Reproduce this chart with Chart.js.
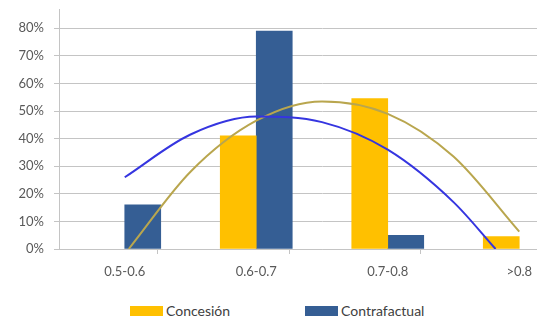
<!DOCTYPE html>
<html>
<head>
<meta charset="utf-8">
<script src="https://cdn.jsdelivr.net/npm/chart.js@4/dist/chart.umd.min.js"></script>
<style>
  html, body { margin: 0; padding: 0; background: #fff; overflow: hidden; }
  #wrap { position: absolute; left: 0; top: 0; width: 600px; height: 320px; }
  #chart { position: absolute; left: 0; top: 0; }
  #legend { position: absolute; left: 130px; top: 302px; display: flex; align-items: center;
            font-family: Lato, "Liberation Sans", sans-serif; font-size: 14px; color: #404040; }
  .item { display: flex; align-items: center; margin-right: 75px; }
  .swatch { width: 33px; height: 10px; margin-right: 3px; }
</style>
</head>
<body>
<div id="wrap">
  <canvas id="chart" width="600" height="290"></canvas>
  <div id="legend"></div>
</div>
<script>
// Categories and bar values (percent of cases)
const categories = ['0.5-0.6', '0.6-0.7', '0.7-0.8', '>0.8'];
const concesion = [0, 41, 54.5, 4.5];
const contrafactual = [16, 79, 5, 0];

// Polynomial trendlines, sampled along the category axis (1 = first category)
const concesionTrendPos = [1.03, 1.5, 2, 2.5, 3, 3.5, 4];
const concesionTrendVal = [0, 28, 46.5, 53.5, 49, 33.5, 6.3];
const contrafactualTrendPos = [1, 1.5, 2, 2.5, 3, 3.5, 3.82];
const contrafactualTrendVal = [26, 41.5, 48, 46, 36, 17, 0];

// Axis ticks: y gridlines, and x tick marks between categories
const yTicks = [0, 10, 20, 30, 40, 50, 60, 70, 80];
const xTicks = [0.5, 1, 1.5, 2, 2.5, 3, 3.5, 4, 4.5];

const toPoints = (xs, ys) => xs.map((x, i) => ({ x: x, y: ys[i] }));
const byCategory = vals => vals.map((v, i) => ({ x: i + 1, y: v }));
const isCategoryCenter = v => Number.isInteger(v);

const FONT = { family: 'Lato, "Liberation Sans", sans-serif', size: 13 };
const TEXT = '#595959';
const GRID = '#c4c4c4';
const YELLOW = '#FFC000';
const NAVY = '#355E94';

// Zero-height bars leave no sliver on the axis
const barFill = color => ctx => (ctx.raw && ctx.raw.y === 0) ? 'rgba(0,0,0,0)' : color;

// Builds an HTML legend for the bar series
const htmlLegend = {
  id: 'htmlLegend',
  afterUpdate(chart) {
    const box = document.getElementById('legend');
    box.innerHTML = '';
    chart.data.datasets.filter(d => d.type !== 'line').forEach(d => {
      const item = document.createElement('div');
      item.className = 'item';
      const sw = document.createElement('span');
      sw.className = 'swatch';
      sw.style.background = d.legendColor;
      const tx = document.createElement('span');
      tx.textContent = d.label;
      item.appendChild(sw);
      item.appendChild(tx);
      box.appendChild(item);
    });
  }
};

new Chart(document.getElementById('chart'), {
  type: 'bar',
  data: {
    datasets: [
      {
        label: 'Concesión',
        data: byCategory(concesion),
        backgroundColor: barFill(YELLOW),
        legendColor: YELLOW,
        barThickness: 36,
        order: 2
      },
      {
        label: 'Contrafactual',
        data: byCategory(contrafactual),
        backgroundColor: barFill(NAVY),
        legendColor: NAVY,
        barThickness: 36,
        order: 2
      },
      {
        type: 'line',
        label: 'Tendencia Contrafactual',
        data: toPoints(contrafactualTrendPos, contrafactualTrendVal),
        borderColor: '#3535E0',
        borderWidth: 2,
        pointRadius: 0,
        cubicInterpolationMode: 'monotone',
        fill: false,
        order: 1
      },
      {
        type: 'line',
        label: 'Tendencia Concesión',
        data: toPoints(concesionTrendPos, concesionTrendVal),
        borderColor: '#B9A64E',
        borderWidth: 2,
        pointRadius: 0,
        cubicInterpolationMode: 'monotone',
        fill: false,
        order: 1
      }
    ]
  },
  options: {
    responsive: false,
    animation: false,
    layout: { padding: { top: 9, right: 15, left: 0, bottom: 0 } },
    plugins: {
      legend: { display: false },
      tooltip: { enabled: false }
    },
    scales: {
      x: {
        type: 'linear',
        offset: false,
        min: 0.5,
        max: 4.5,
        z: 1,
        grid: {
          drawOnChartArea: false,
          drawTicks: true,
          tickLength: 5,
          color: GRID,
          tickColor: ctx => (ctx.tick && isCategoryCenter(ctx.tick.value)) ? 'rgba(0,0,0,0)' : GRID
        },
        border: { color: GRID },
        ticks: {
          font: FONT,
          color: TEXT,
          padding: 10,
          maxRotation: 0,
          autoSkip: false,
          callback: v => isCategoryCenter(v) ? categories[v - 1] : ''
        },
        afterBuildTicks(s) { s.ticks = xTicks.map(v => ({ value: v })); },
        afterFit(s) { s.height = 41; s.paddingLeft = 0; s.paddingRight = 0; }
      },
      y: {
        min: 0,
        max: 87,
        grid: { color: GRID, tickLength: 5 },
        border: { color: GRID },
        ticks: {
          font: FONT,
          color: TEXT,
          padding: 10,
          callback: v => v + '%'
        },
        afterBuildTicks(s) { s.ticks = yTicks.map(v => ({ value: v })); },
        afterFit(s) { s.width = 59; s.paddingTop = 0; s.paddingBottom = 0; }
      }
    }
  },
  plugins: [htmlLegend]
});
</script>
</body>
</html>
